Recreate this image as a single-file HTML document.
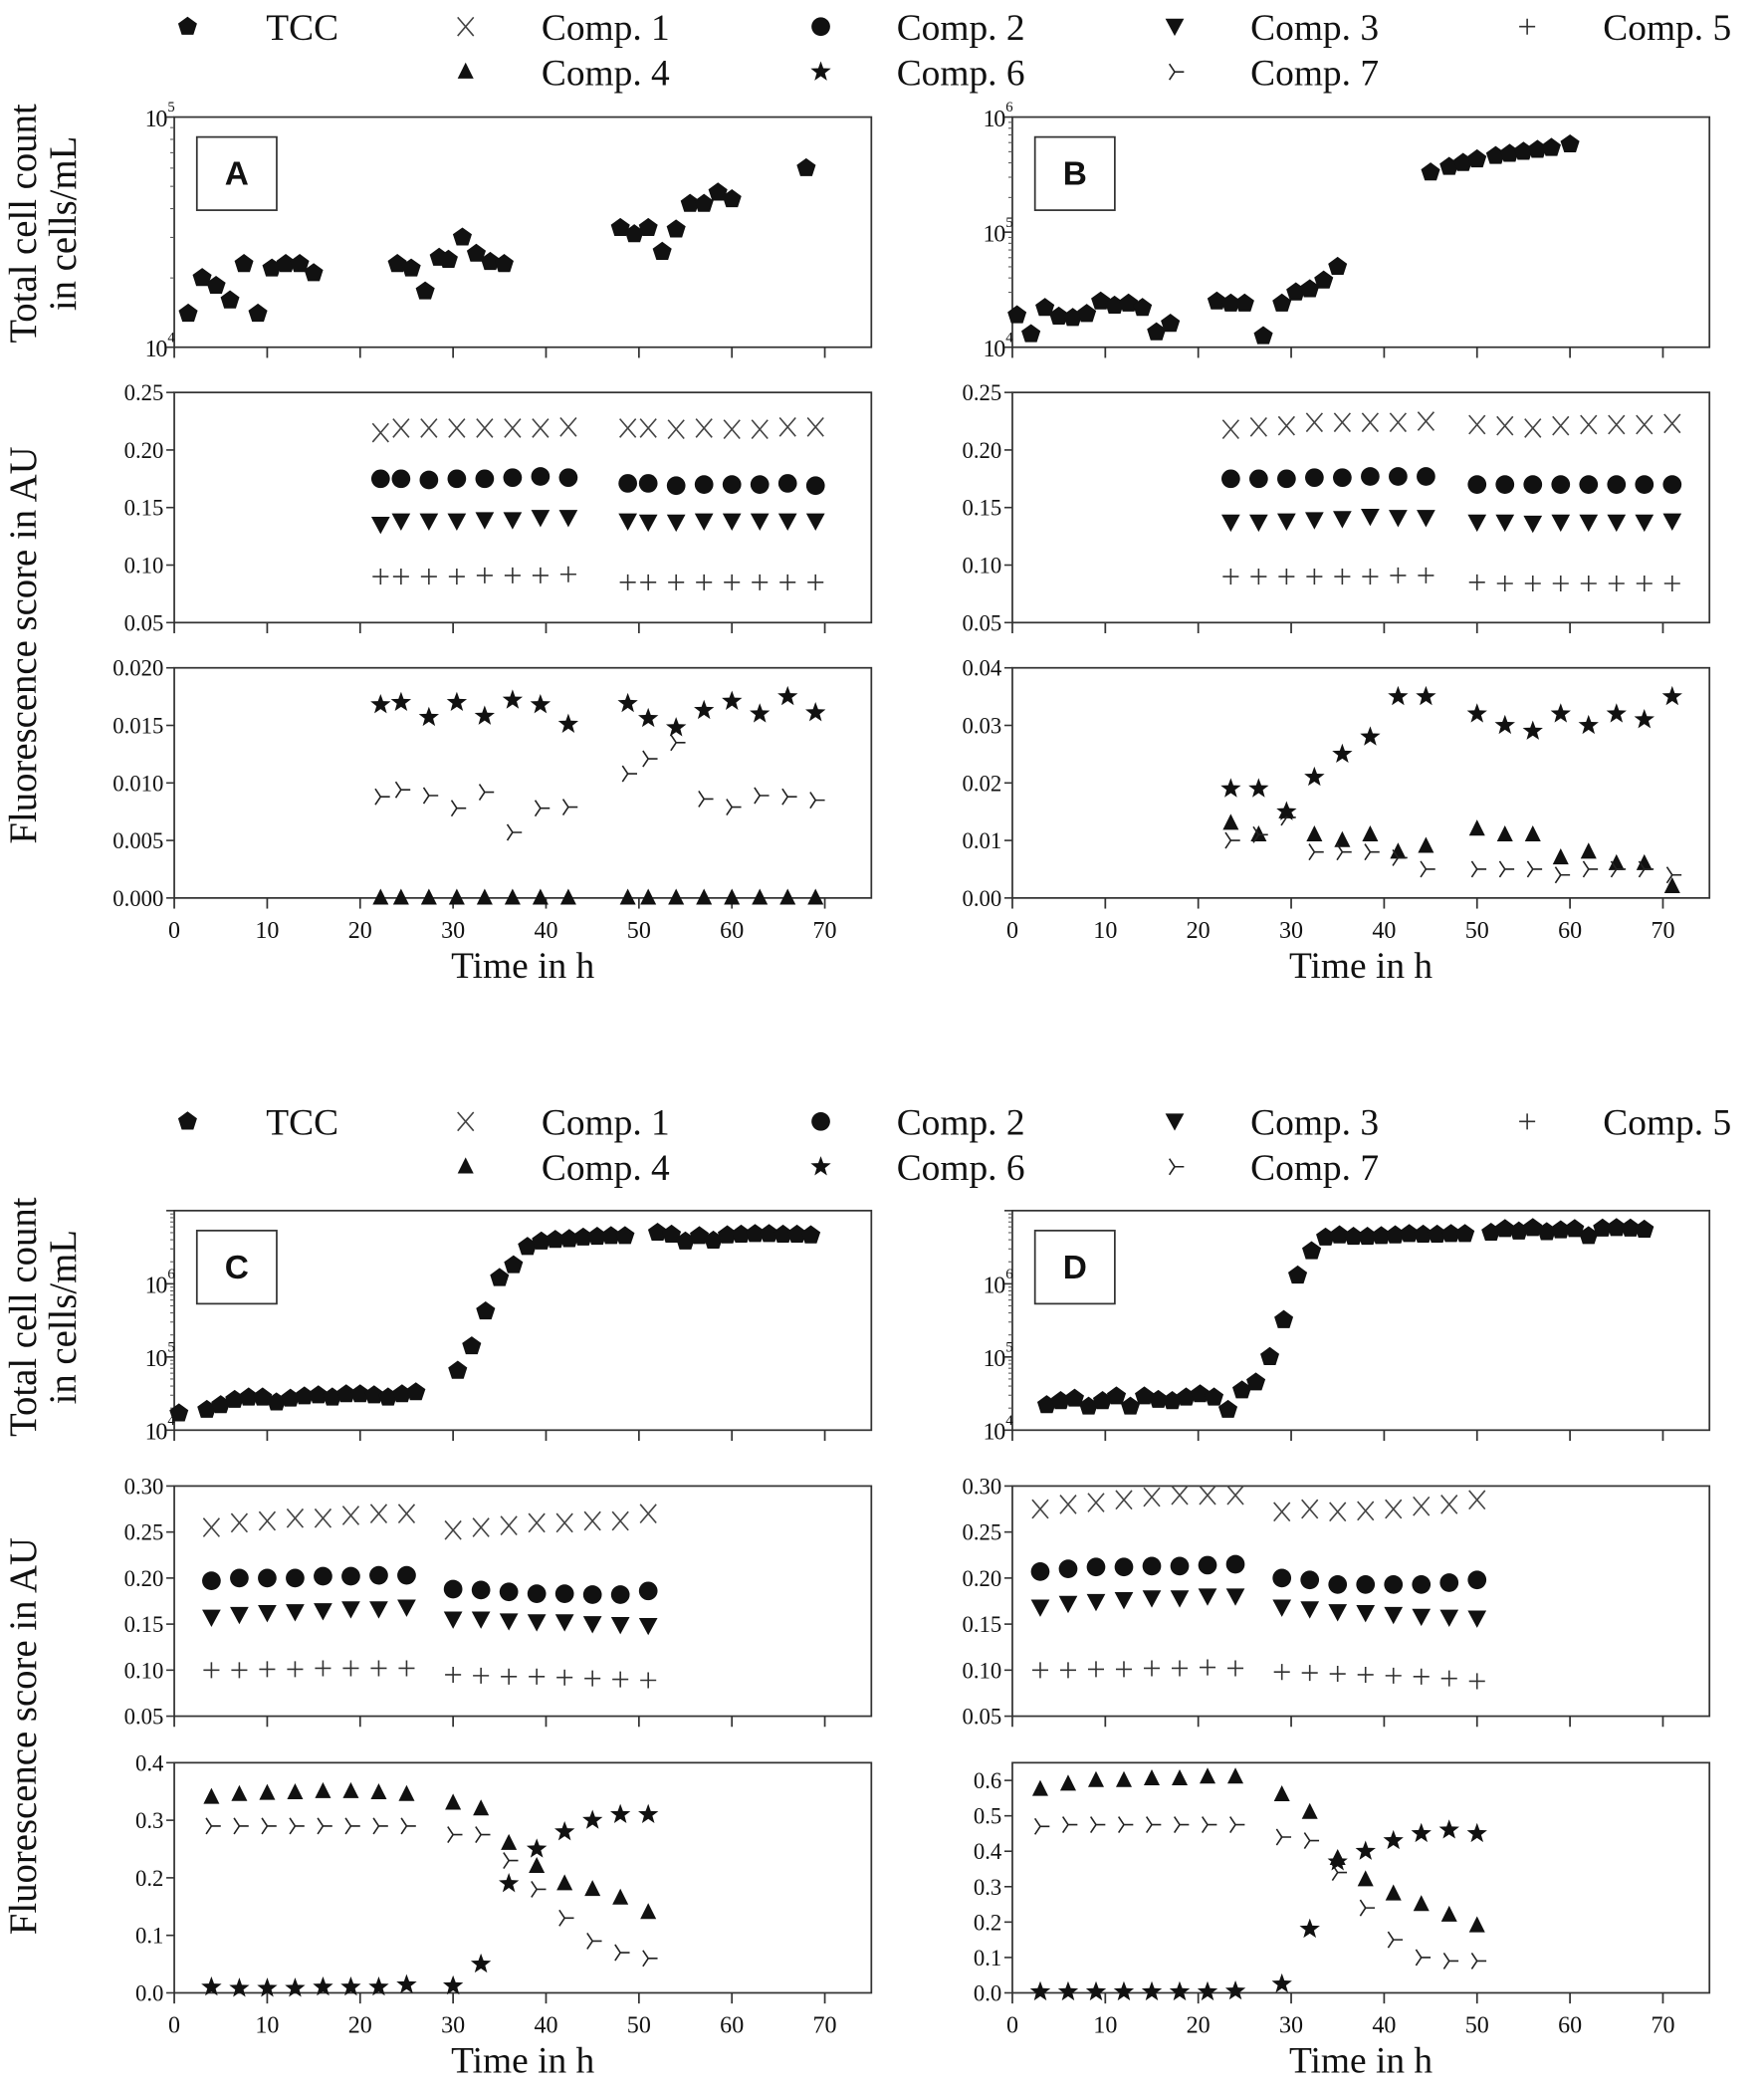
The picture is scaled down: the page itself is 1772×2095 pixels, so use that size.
<!DOCTYPE html>
<html><head><meta charset="utf-8"><style>
html,body{margin:0;padding:0;background:#fff;}
svg{display:block;}
text{font-family:"Liberation Serif",serif;fill:#111;}
</style></head><body>
<svg id="fig" width="1772" height="2095" viewBox="0 0 1326 1568" preserveAspectRatio="none" xmlns="http://www.w3.org/2000/svg"></svg>
<script>
// ---------- DATA ----------
const aTccT=[1.5,3,4.5,6,7.5,9,10.5,12,13.5,15,24,25.5,27,28.5,29.5,31,32.5,34,35.5,48,49.5,51,52.5,54,55.5,57,58.5,60,68];
const aTccV=[14000,20000,18500,16000,23000,14000,22000,23000,23000,21000,23000,22000,17500,24500,24000,30000,25500,23500,23000,33000,31000,33000,26000,32500,42000,42000,47000,44000,60000];
const aT=[22.2,24.4,27.4,30.4,33.4,36.4,39.4,42.4,48.8,51,54,57,60,63,66,69];
const aC1=[0.215,0.219,0.219,0.219,0.219,0.219,0.219,0.22,0.219,0.219,0.218,0.219,0.218,0.218,0.22,0.22];
const aC2=[0.175,0.175,0.174,0.175,0.175,0.176,0.177,0.176,0.171,0.171,0.169,0.17,0.17,0.17,0.171,0.169];
const aC3=[0.135,0.138,0.138,0.138,0.139,0.139,0.141,0.141,0.138,0.137,0.137,0.138,0.138,0.138,0.138,0.138];
const aC5=[0.09,0.09,0.09,0.09,0.091,0.091,0.091,0.092,0.085,0.085,0.085,0.085,0.085,0.085,0.085,0.085];
const aC4=[0,0,0,0,0,0,0,0,0,0,0,0,0,0,0,0];
const aC6=[0.0168,0.017,0.0157,0.017,0.0158,0.0172,0.0168,0.0151,0.0169,0.0156,0.0148,0.0163,0.0171,0.016,0.0175,0.0161];
const aC7=[0.0088,0.0094,0.0089,0.0078,0.0092,0.0057,0.0078,0.0079,0.0108,0.0121,0.0135,0.0086,0.0079,0.0089,0.0088,0.0085];

const bTccT=[0.5,2,3.5,5,6.5,8,9.5,11,12.5,14,15.5,17,22,23.5,25,27,29,30.5,32,33.5,35,45,47,48.5,50,52,53.5,55,56.5,58,60];
const bTccV=[19000,13000,22000,18500,18000,19500,25000,23000,24000,22000,13500,16000,25000,24000,24000,12500,24000,30000,32000,38000,50000,330000,370000,400000,430000,460000,480000,500000,520000,540000,580000];
const bT=[23.5,26.5,29.5,32.5,35.5,38.5,41.5,44.5,50,53,56,59,62,65,68,71];
const bC1=[0.218,0.22,0.221,0.224,0.224,0.224,0.224,0.225,0.222,0.221,0.219,0.221,0.222,0.222,0.222,0.223];
const bC2=[0.175,0.175,0.175,0.176,0.176,0.177,0.177,0.177,0.17,0.17,0.17,0.17,0.17,0.17,0.17,0.17];
const bC3=[0.137,0.137,0.138,0.139,0.14,0.142,0.141,0.141,0.137,0.137,0.136,0.137,0.137,0.137,0.137,0.138];
const bC5=[0.09,0.09,0.09,0.09,0.09,0.09,0.091,0.091,0.085,0.084,0.084,0.084,0.084,0.084,0.084,0.084];
const bC4=[0.013,0.011,0.015,0.011,0.01,0.011,0.008,0.009,0.012,0.011,0.011,0.007,0.008,0.006,0.006,0.002];
const bC6=[0.019,0.019,0.015,0.021,0.025,0.028,0.035,0.035,0.032,0.03,0.029,0.032,0.03,0.032,0.031,0.035];
const bC7=[0.01,0.011,0.014,0.008,0.008,0.008,0.007,0.005,0.005,0.005,0.005,0.004,0.005,0.005,0.005,0.004];

const cTccT=[0.5,3.5,5,6.5,8,9.5,11,12.5,14,15.5,17,18.5,20,21.5,23,24.5,26,30.5,32,33.5,35,36.5,38,39.5,41,42.5,44,45.5,47,48.5,52,53.5,55,56.5,58,59.5,61,62.5,64,65.5,67,68.5];
const cTccV=[17000,19000,22000,26000,28000,28000,24000,27000,29000,30000,28000,31000,31000,30000,28000,31000,33000,65000,140000,420000,1200000,1800000,3200000,3800000,4000000,4100000,4300000,4400000,4500000,4500000,5000000,4700000,3800000,4500000,3900000,4600000,4700000,4800000,4800000,4700000,4700000,4600000];
const cT=[4,7,10,13,16,19,22,25,30,33,36,39,42,45,48,51];
const cC1=[0.255,0.26,0.262,0.265,0.265,0.268,0.27,0.27,0.252,0.255,0.257,0.26,0.26,0.262,0.262,0.27];
const cC2=[0.197,0.2,0.2,0.2,0.202,0.202,0.203,0.203,0.188,0.187,0.185,0.183,0.183,0.182,0.182,0.186];
const cC3=[0.157,0.16,0.162,0.163,0.164,0.166,0.166,0.168,0.155,0.155,0.153,0.152,0.152,0.15,0.149,0.148];
const cC5=[0.1,0.1,0.101,0.101,0.102,0.102,0.102,0.102,0.095,0.094,0.093,0.093,0.092,0.091,0.09,0.089];
const cC4=[0.34,0.345,0.347,0.348,0.35,0.35,0.348,0.345,0.33,0.32,0.26,0.22,0.19,0.18,0.165,0.14];
const cC6=[0.01,0.008,0.008,0.008,0.01,0.01,0.01,0.014,0.012,0.05,0.19,0.25,0.28,0.3,0.31,0.31];
const cC7=[0.29,0.29,0.29,0.29,0.29,0.29,0.29,0.29,0.275,0.275,0.23,0.18,0.13,0.09,0.07,0.06];

const dTccT=[3.7,5.2,6.7,8.2,9.7,11.2,12.7,14.2,15.7,17.2,18.7,20.2,21.7,23.2,24.7,26.2,27.7,29.2,30.7,32.2,33.7,35.2,36.7,38.2,39.7,41.2,42.7,44.2,45.7,47.2,48.7,51.5,53,54.5,56,57.5,59,60.5,62,63.5,65,66.5,68];
const dTccV=[22000,25000,27000,21000,25000,29000,21000,29000,26000,25000,28000,31000,28000,19000,35000,45000,100000,320000,1300000,2800000,4300000,4600000,4400000,4400000,4500000,4600000,4800000,4700000,4700000,4800000,4800000,5000000,5600000,5200000,5800000,5100000,5400000,5600000,4500000,5700000,5800000,5700000,5500000];
const dT=[3,6,9,12,15,18,21,24,29,32,35,38,41,44,47,50];
const dC1=[0.275,0.28,0.282,0.285,0.288,0.29,0.29,0.29,0.272,0.275,0.272,0.273,0.275,0.278,0.28,0.285];
const dC2=[0.207,0.21,0.212,0.212,0.213,0.213,0.214,0.215,0.2,0.198,0.193,0.193,0.193,0.193,0.195,0.198];
const dC3=[0.168,0.172,0.174,0.176,0.178,0.178,0.18,0.18,0.168,0.166,0.163,0.162,0.16,0.158,0.157,0.156];
const dC5=[0.1,0.1,0.101,0.101,0.102,0.102,0.103,0.102,0.098,0.097,0.096,0.095,0.094,0.093,0.091,0.088];
const dC4=[0.575,0.59,0.6,0.6,0.605,0.605,0.61,0.61,0.56,0.51,0.38,0.32,0.28,0.25,0.22,0.19];
const dC6=[0.003,0.003,0.003,0.003,0.003,0.003,0.003,0.005,0.025,0.18,0.37,0.4,0.43,0.45,0.46,0.45];
const dC7=[0.47,0.475,0.475,0.475,0.475,0.475,0.475,0.475,0.44,0.43,0.34,0.24,0.15,0.1,0.09,0.09];

const xTicks=[0,10,20,30,40,50,60,70];
const midTicksAB=["0.05","0.10","0.15","0.20","0.25"];
const midTicksCD=["0.05","0.10","0.15","0.20","0.25","0.30"];
const botTicksA=["0.000","0.005","0.010","0.015","0.020"];
const botTicksB=["0.00","0.01","0.02","0.03","0.04"];
const botTicksC=["0.0","0.1","0.2","0.3","0.4"];
const botTicksD=["0.0","0.1","0.2","0.3","0.4","0.5","0.6"];

// ---------- DRAWING ----------
const NS="http://www.w3.org/2000/svg";
const svg=document.getElementById('fig');
function el(tag,attrs,parent){const e=document.createElementNS(NS,tag);for(const k in attrs)e.setAttribute(k,attrs[k]);(parent||svg).appendChild(e);return e;}
function txt(s,x,y,size,anchor,parent,extra){const t=el('text',Object.assign({x:x,y:y,'font-size':size,'text-anchor':anchor||'start'},extra||{}),parent);t.textContent=s;return t;}

function marker(type,x,y,g){
  let m;
  if(type==='tcc'){let p=[];for(let i=0;i<5;i++){const a=-Math.PI/2+i*2*Math.PI/5;p.push((x+7.5*Math.cos(a)).toFixed(1)+','+(y+7.5*Math.sin(a)).toFixed(1));}m=el('polygon',{points:p.join(' '),fill:'#111'},g);}
  else if(type==='c1'){m=el('path',{d:`M${x-6},${y-7}L${x+6},${y+7}M${x+6},${y-7}L${x-6},${y+7}`,stroke:'#444','stroke-width':1.2,fill:'none'},g);}
  else if(type==='c2'){m=el('circle',{cx:x,cy:y,r:7,fill:'#111'},g);}
  else if(type==='c3'){m=el('polygon',{points:`${x-7},${y-6} ${x+7},${y-6} ${x},${y+7}`,fill:'#111'},g);}
  else if(type==='c4'){m=el('polygon',{points:`${x-6},${y+5} ${x+6},${y+5} ${x},${y-7}`,fill:'#111'},g);}
  else if(type==='c5'){m=el('path',{d:`M${x-6},${y}L${x+6},${y}M${x},${y-6}L${x},${y+6}`,stroke:'#333','stroke-width':1.2,fill:'none'},g);}
  else if(type==='c6'){let p=[];for(let i=0;i<10;i++){const a=-Math.PI/2+i*Math.PI/5;const r=i%2?3.3:8;p.push((x+r*Math.cos(a)).toFixed(1)+','+(y+r*Math.sin(a)).toFixed(1));}m=el('polygon',{points:p.join(' '),fill:'#111'},g);}
  else if(type==='c7'){m=el('path',{d:`M${x},${y}L${x+7},${y}M${x},${y}L${x-4},${y-6}M${x},${y}L${x-4},${y+6}`,stroke:'#222','stroke-width':1.2,fill:'none'},g);}
  return m;
}

// legends
function legend(y0){
  const g=el('g',{});
  
  
  const items=[['tcc','TCC',141,200,0],['c1','Comp. 1',350,407,0],['c2','Comp. 2',617,674,0],['c3','Comp. 3',883,940,0],['c5','Comp. 5',1148,1205,0],['c4','Comp. 4',350,407,1],['c6','Comp. 6',617,674,1],['c7','Comp. 7',883,940,1]];
  items.forEach(it=>{
    const eg=el('g',{},g);
    
    
    const y=y0+it[4]*34;
    marker(it[0],it[2],y,eg);
    txt(it[1],it[3],y+10,28,'start',eg);
  });
}
legend(20);legend(843);

const PXH=6.986;
function panel(name,x0,rows,tccT,tccV,logMax,T,C1,C2,C3,C5,C4,C6,C7,midMax,midTicks,botMax,botTicks,letter){
  const g=el('g',{});
  
  
  const W=524;
  const xs=t=>x0+t*PXH;
  function frame(y1,y2,sub){
    const fg=el('g',{},g);
    
    
    el('rect',{x:x0,y:y1,width:W,height:y2-y1,fill:'none',stroke:'#333','stroke-width':1.3},fg);
    xTicks.forEach(t=>el('line',{x1:xs(t),x2:xs(t),y1:y2,y2:y2+8,stroke:'#333','stroke-width':1.3},fg));
    return fg;
  }
  // top
  const [t1,t2]=rows[0];
  const fg1=frame(t1,t2,'tcc');
  const ly=v=>t2-(Math.log10(v)-4)/(logMax-4)*(t2-t1);
  for(let d=4;d<=logMax;d++){
    const y=ly(Math.pow(10,d));
    if(d<7){const tg=el('g',{},fg1);
      txt('10',x0-6,y+7,18,'end',tg,{'letter-spacing':'-1'});txt(String(d),x0-5,y-4,11,'start',tg);}
    el('line',{x1:x0-6,x2:x0,y1:y,y2:y,stroke:'#333','stroke-width':1.2},fg1);
    if(d<logMax)for(let k=2;k<10;k++){const yy=ly(k*Math.pow(10,d));el('line',{x1:x0-3,x2:x0,y1:yy,y2:yy,stroke:'#555','stroke-width':0.8},fg1);}
  }
  const lb=el('g',{},g);
  el('rect',{x:x0+17,y:t1+15,width:60,height:55,fill:'#fff',stroke:'#333','stroke-width':1.3},lb);
  txt(letter,x0+47,t1+51,25,'middle',lb,{style:'font-family:"Liberation Sans",sans-serif;font-weight:bold'});
  const sg=el('g',{},g);
  tccT.forEach((t,i)=>{const m=marker('tcc',xs(t),ly(tccV[i]),sg);});
  // mid
  const [m1,m2]=rows[1];
  const fg2=frame(m1,m2,'mid');
  const my=v=>m2-(v-0.05)/(midMax-0.05)*(m2-m1);
  midTicks.forEach(s=>{const y=my(parseFloat(s));el('line',{x1:x0-6,x2:x0,y1:y,y2:y,stroke:'#333','stroke-width':1.2},fg2);const t=txt(s,x0-8,y+6,17,'end',fg2);});
  [['c1',C1],['c2',C2],['c3',C3],['c5',C5]].forEach(([k,arr])=>{const s=el('g',{},g);
    T.forEach((t,i)=>{const m=marker(k,xs(t),my(arr[i]),s);});});
  // bottom
  const [b1,b2]=rows[2];
  const fg3=frame(b1,b2,'bot');
  const by=v=>b2-v/botMax*(b2-b1);
  botTicks.forEach(s=>{const y=by(parseFloat(s));el('line',{x1:x0-6,x2:x0,y1:y,y2:y,stroke:'#333','stroke-width':1.2},fg3);const t=txt(s,x0-8,y+6,17,'end',fg3);});
  [['c4',C4],['c7',C7],['c6',C6]].forEach(([k,arr])=>{const s=el('g',{},g);
    T.forEach((t,i)=>{const m=marker(k,xs(t),by(arr[i]),s);});});
  xTicks.forEach(t=>{const tl=txt(String(t),xs(t),b2+30,18,'middle',g);});
  const xt=txt('Time in h',x0+262,b2+60,28,'middle',g);
  
  
}
const rowsTop=[[88,261],[295,468],[502,675]];
const rowsBot=[[910,1075],[1117,1290],[1325,1498]];
panel('a',131,rowsTop,aTccT,aTccV,5,aT,aC1,aC2,aC3,aC5,aC4,aC6,aC7,0.25,midTicksAB,0.02,botTicksA,'A');
panel('b',761,rowsTop,bTccT,bTccV,6,bT,bC1,bC2,bC3,bC5,bC4,bC6,bC7,0.25,midTicksAB,0.04,botTicksB,'B');
panel('c',131,rowsBot,cTccT,cTccV,7,cT,cC1,cC2,cC3,cC5,cC4,cC6,cC7,0.30,midTicksCD,0.4,botTicksC,'C');
panel('d',761,rowsBot,dTccT,dTccV,7,dT,dC1,dC2,dC3,dC5,dC4,dC6,dC7,0.30,midTicksCD,0.65,botTicksD,'D');

// y axis titles
function ytitle(lines,xs,cy,name){
  const g=el('g',{});
  
  
  lines.forEach((s,i)=>txt(s,xs[i],cy,29,'middle',g,{transform:`rotate(-90 ${xs[i]} ${cy})`}));
}
ytitle(['Total cell count','in cells/mL'],[27,57],168,'y-axis-title-tcc-top');
ytitle(['Fluorescence score in AU'],[27],485,'y-axis-title-fluor-top');
ytitle(['Total cell count','in cells/mL'],[27,57],990,'y-axis-title-tcc-bottom');
ytitle(['Fluorescence score in AU'],[27],1305,'y-axis-title-fluor-bottom');
</script>
</body></html>
